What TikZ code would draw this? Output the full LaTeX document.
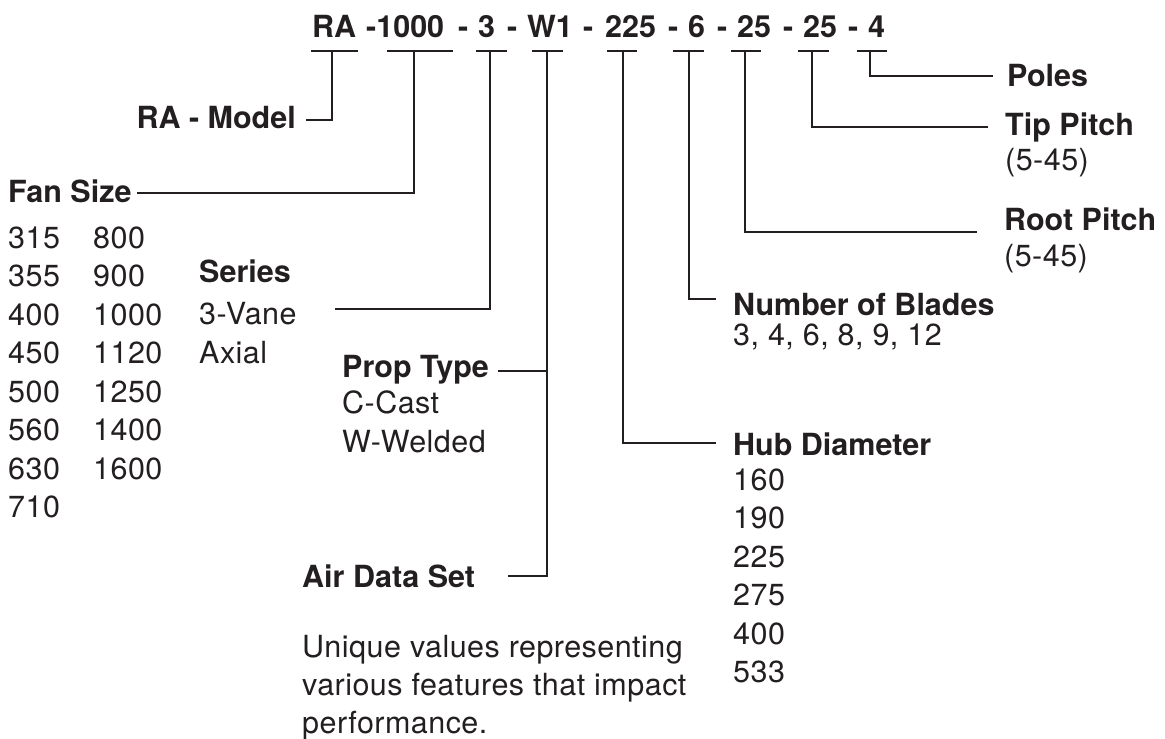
\documentclass[tikz,border=0pt]{standalone}
\usepackage{fontspec}
\setmainfont{TeX Gyre Heros}
\definecolor{ink}{RGB}{35,31,32}
\newcommand\fsz{\fontsize{30.5}{36}\selectfont}
\begin{document}
\begin{tikzpicture}[x=1pt,y=-1pt,
  lbl/.style={anchor=base west, inner sep=0pt, font=\fsz\bfseries, text=ink},
  val/.style={anchor=base west, inner sep=0pt, font=\fsz\addfontfeatures{LetterSpace=1.5}, text=ink},
  conn/.style={draw=ink, line width=2.2pt}]
\useasboundingbox (0,0) rectangle (1165,739);
% title
\foreach \t/\x [count=\i] in {RA/312, -1000/366, -/458, 3/478, -/507, W1/527, -/583, 225/605, -/668, 6/688, -/717, 25/737, -/783, 25/803, -/848, 4/868}
  \node[lbl] (t\i) at (\x,37) {\t};
% underline stubs
\foreach \n/\l/\r/\v in {ra/311/358/332, fs/387/453/414, se/476/507/490, pt/532/563/547, hub/607/637/623, nb/673/704/689, rp/731/761/745, tp/798/829/812, po/857/887/870} {
  \coordinate (\n-l) at (\l,51);
  \coordinate (\n-r) at (\r,51);
  \coordinate (\n-v) at (\v,51);
  \draw[conn] (\n-l) -- (\n-r);
}
% labels
\node[lbl, anchor=base east] (ram) at (296,128) {RA - Model};
\node[lbl] (fan) at (8,202) {Fan Size};
\foreach \v [count=\i from 0] in {315,355,400,450,500,560,630,710}
  \node[val] (fa\i) at (8,{248+38.5*\i}) {\v};
\foreach \v [count=\i from 0] in {800,900,1000,1120,1250,1400,1600}
  \node[val] (fb\i) at (93,{248+38.5*\i}) {\v};
\node[lbl] (ser) at (199,282) {Series};
\node[val] (ser1) at (199,324) {3-Vane};
\node[val] (ser2) at (199,363) {Axial};
\node[lbl] (prop) at (342,377) {Prop Type};
\node[val] (prop1) at (342,413) {C-Cast};
\node[val] (prop2) at (342,452) {W-Welded};
\node[lbl] (air) at (302,587) {Air Data Set};
\node[val] (air1) at (302,657) {Unique values representing};
\node[val] (air2) at (302,695) {various features that impact};
\node[val] (air3) at (302,733) {performance.};
\node[lbl] (nob) at (733,315) {Number of Blades};
\node[val] (nob1) at (733,345) {3, 4, 6, 8, 9, 12};
\node[lbl] (hub) at (733,455) {Hub Diameter};
\foreach \v [count=\i from 0] in {160,190,225,275,400,533}
  \node[val] (hb\i) at (733,{490+38.5*\i}) {\v};
\node[lbl] (root) at (1004,230) {Root Pitch};
\node[val] (root1) at (1004,266) {(5-45)};
\node[lbl] (tip) at (1005,135) {Tip Pitch};
\node[val] (tip1) at (1005,170) {(5-45)};
\node[lbl] (pol) at (1007,86) {Poles};
% connector ends
\coordinate (ra-e) at (306,120);
\coordinate (fs-e) at (137,193);
\coordinate (se-e) at (335,309);
\coordinate (pt-e) at (508,576);
\coordinate (pt-b) at (547,371);
\coordinate (pt-be) at (498,371);
\coordinate (hub-e) at (716,443);
\coordinate (nb-e) at (716,299);
\coordinate (rp-e) at (977,232);
\coordinate (tp-e) at (988,127);
\coordinate (po-e) at (993,76);
\draw[conn] (ra-v) |- (ra-e);
\draw[conn] (fs-v) |- (fs-e);
\draw[conn] (se-v) |- (se-e);
\draw[conn] (pt-v) |- (pt-e);
\draw[conn] (pt-b) -- (pt-be);
\draw[conn] (hub-v) |- (hub-e);
\draw[conn] (nb-v) |- (nb-e);
\draw[conn] (rp-v) |- (rp-e);
\draw[conn] (tp-v) |- (tp-e);
\draw[conn] (po-v) |- (po-e);
\end{tikzpicture}
\end{document}
